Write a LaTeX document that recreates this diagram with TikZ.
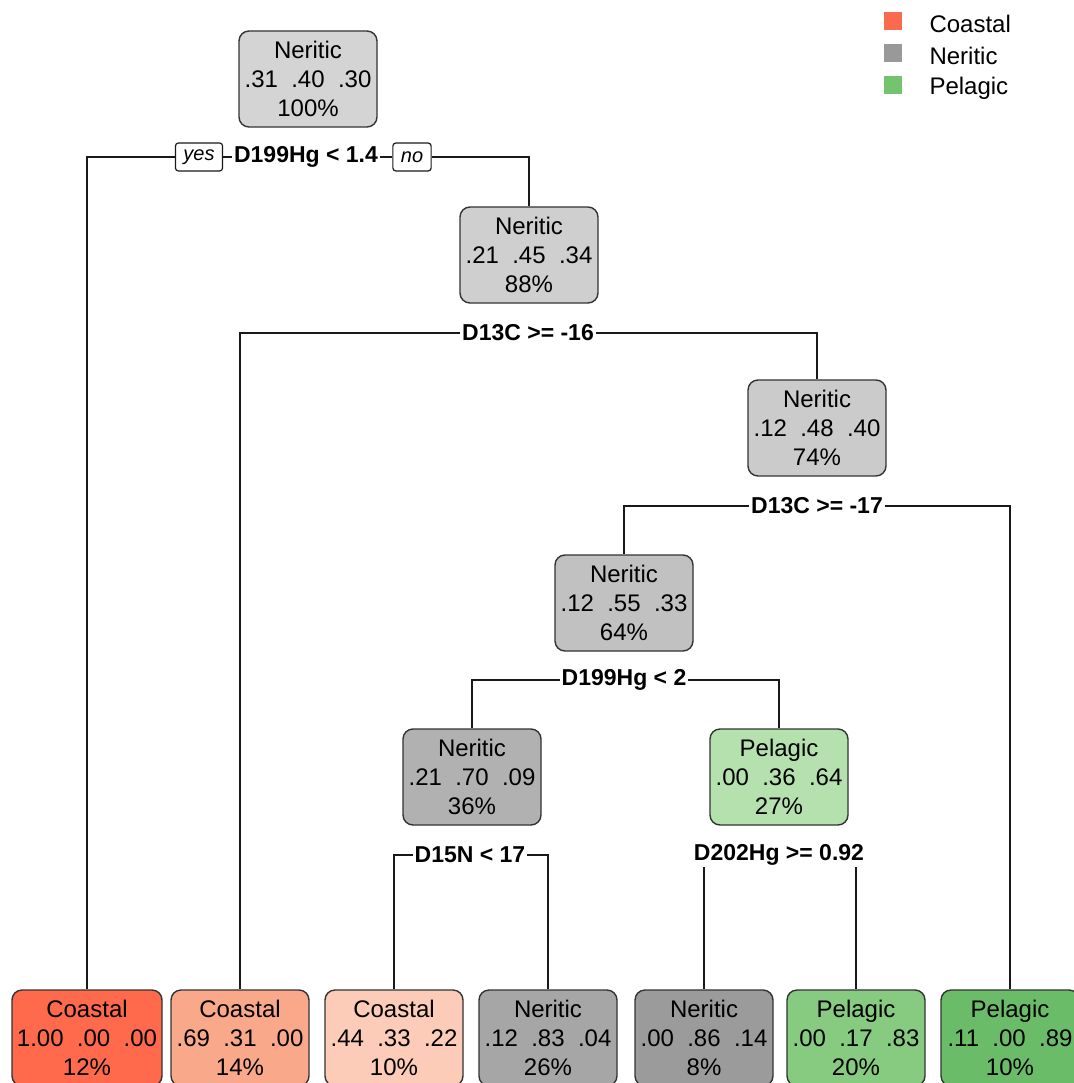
\documentclass[tikz,border=0pt]{standalone}
\usepackage{fontspec}
\setmainfont{Liberation Sans}
\usetikzlibrary{positioning}
\definecolor{grayA}{HTML}{D4D4D4}
\definecolor{grayB}{HTML}{CFCFCF}
\definecolor{grayC}{HTML}{CBCBCB}
\definecolor{grayD}{HTML}{C1C1C1}
\definecolor{grayE}{HTML}{B1B1B1}
\definecolor{grayF}{HTML}{A6A6A6}
\definecolor{grayG}{HTML}{9B9B9B}
\definecolor{coastA}{HTML}{FE6A4B}
\definecolor{coastB}{HTML}{F9A88A}
\definecolor{coastC}{HTML}{FDCCB8}
\definecolor{pelA}{HTML}{B5E1AE}
\definecolor{pelB}{HTML}{86CB80}
\definecolor{pelC}{HTML}{6BBC69}
\definecolor{keyCoast}{HTML}{FA6A4E}
\definecolor{keyNer}{HTML}{999999}
\definecolor{keyPel}{HTML}{73C36F}
\tikzset{
  treenode/.style={draw=black!80, line width=1.4pt, rounded corners=10pt,
    minimum width=138pt, minimum height=96pt, inner sep=0pt, align=center,
    font=\fontsize{24}{29}\selectfont},
  splitlab/.style={inner sep=1pt, font=\fontsize{23}{28}\selectfont\bfseries},
  yesno/.style={draw, line width=1.2pt, rounded corners=3pt, minimum height=28pt,
    inner xsep=8pt, inner ysep=1pt, font=\fontsize{20}{24}\selectfont\itshape},
  keybox/.style={fill=#1, minimum size=18pt, inner sep=0pt},
  keytext/.style={inner sep=0pt, yshift=-3pt, font=\fontsize{24}{29}\selectfont}
}
\begin{document}
\begin{tikzpicture}[x=1pt, y=-1pt, line width=1.5pt, draw=black!90]
      \useasboundingbox (0,0) rectangle (1073,1083);
      % inner nodes
      \node[treenode, fill=grayA] (n1) at (308,79) {Neritic\\.31\ \ .40\ \ .30\\100\%};
      \node[treenode, fill=grayB] (n2) at (529,255) {Neritic\\.21\ \ .45\ \ .34\\88\%};
      \node[treenode, fill=grayC] (n3) at (817,428) {Neritic\\.12\ \ .48\ \ .40\\74\%};
      \node[treenode, fill=grayD] (n4) at (624,603) {Neritic\\.12\ \ .55\ \ .33\\64\%};
      \node[treenode, fill=grayE] (n5) at (472,777) {Neritic\\.21\ \ .70\ \ .09\\36\%};
      \node[treenode, fill=pelA] (n6) at (779,777) {Pelagic\\.00\ \ .36\ \ .64\\27\%};
      % leaves
      \node[treenode, fill=coastA, minimum width=150pt] (l1) at (87,1038) {Coastal\\1.00\ \ .00\ \ .00\\12\%};
      \node[treenode, fill=coastB] (l2) at (240,1038) {Coastal\\.69\ \ .31\ \ .00\\14\%};
      \node[treenode, fill=coastC] (l3) at (394,1038) {Coastal\\.44\ \ .33\ \ .22\\10\%};
      \node[treenode, fill=grayF] (l4) at (548,1038) {Neritic\\.12\ \ .83\ \ .04\\26\%};
      \node[treenode, fill=grayG] (l5) at (704,1038) {Neritic\\.00\ \ .86\ \ .14\\8\%};
      \node[treenode, fill=pelB] (l6) at (856,1038) {Pelagic\\.00\ \ .17\ \ .83\\20\%};
      \node[treenode, fill=pelC] (l7) at (1010,1038) {Pelagic\\.11\ \ .00\ \ .89\\10\%};
      % split labels
      \node[splitlab] (s1) at (306,157) {D199Hg < 1.4};
      \node[yesno] (yes) at (199,157) {yes};
      \node[yesno] (no) at (412,157) {no};
      \node[splitlab] (s2) at (528,333) {D13C >= -16};
      \node[splitlab] (s3) at (817,506) {D13C >= -17};
      \node[splitlab] (s4) at (624,680) {D199Hg < 2};
      \node[splitlab] (s5) at (470,855) {D15N < 17};
      \node[splitlab] (s6) at (779,855) {D202Hg >= 0.92};
      % connectors
      \draw (yes) -| (l1);
      \draw (yes) -- (s1);
      \draw (s1) -- (no);
      \draw (no) -| (n2);
      \draw (s2) -| (l2);
      \draw (s2) -| (n3);
      \draw (s3) -| (n4);
      \draw (s3) -| (l7);
      \draw (s4) -| (n5);
      \draw (s4) -| (n6);
      \draw (s5) -| (l3);
      \draw (s5) -| (l4);
      \draw (s6.south -| l5) -- (l5);
      \draw (s6.south -| l6) -- (l6);
      % legend
      \node[keybox=keyCoast] (k1) at (893,21) {};
      \node[keybox=keyNer] (k2) at (893,53) {};
      \node[keybox=keyPel] (k3) at (893,85) {};
      \node[keytext, right=26pt of k1] (t1) {Coastal};
      \node[keytext, right=26pt of k2] (t2) {Neritic};
      \node[keytext, right=26pt of k3] (t3) {Pelagic};
    \end{tikzpicture}
\end{document}
